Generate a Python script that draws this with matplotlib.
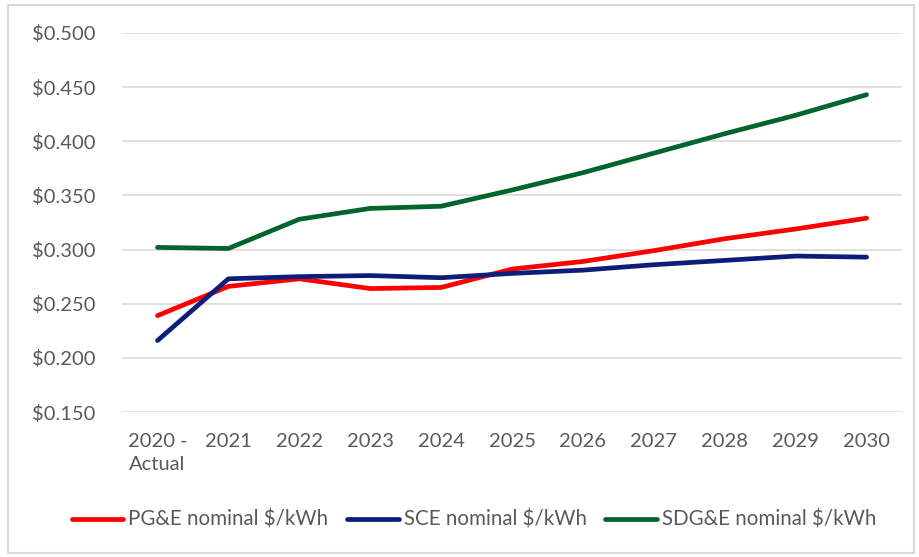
import matplotlib.pyplot as plt
from matplotlib.patches import Rectangle

# Data
years = ["2020 -\nActual", "2021", "2022", "2023", "2024", "2025",
         "2026", "2027", "2028", "2029", "2030"]
pge = [0.239, 0.266, 0.273, 0.264, 0.265, 0.282, 0.289, 0.299, 0.310, 0.319, 0.329]
sce = [0.216, 0.273, 0.275, 0.276, 0.274, 0.278, 0.281, 0.286, 0.290, 0.294, 0.293]
sdge = [0.302, 0.301, 0.328, 0.338, 0.340, 0.355, 0.371, 0.389, 0.407, 0.424, 0.443]
yticks = [0.15, 0.20, 0.25, 0.30, 0.35, 0.40, 0.45, 0.50]

plt.rcParams['font.family'] = ['Lato', 'DejaVu Sans']

fig = plt.figure(figsize=(9.19, 5.57), dpi=100)
ax = fig.add_axes([0.1328, 0.2603, 0.8487, 0.6805])

# light grey frame around the whole chart
fig.patches.append(Rectangle((8 / 919, 4 / 557), 906 / 919, 548 / 557,
                             transform=fig.transFigure, fill=False,
                             edgecolor='#d9d9d9', linewidth=1.5))

x = range(len(years))
ax.plot(x, pge, color='#ff0000', lw=3.4, solid_capstyle='round', label='PG&E nominal $/kWh', zorder=3)
ax.plot(x, sce, color='#0d1e7a', lw=3.4, solid_capstyle='round', label='SCE nominal $/kWh', zorder=3)
ax.plot(x, sdge, color='#00652b', lw=3.4, solid_capstyle='round', label='SDG&E nominal $/kWh', zorder=3)

ax.set_xlim(-0.5, len(years) - 0.5)
ax.set_ylim(0.15, 0.5)
ax.set_yticks(yticks)
ax.set_yticklabels([f"${v:.3f}" for v in yticks])
ax.set_xticks(list(x))
ax.set_xticklabels(years, linespacing=1.45)
ax.grid(axis='y', color='#d9d9d9', lw=1.2)
ax.set_axisbelow(True)
for s in ax.spines.values():
    s.set_visible(False)
ax.tick_params(axis='both', length=0, labelsize=14.5, labelcolor='#595959')
ax.tick_params(axis='y', pad=19)
ax.tick_params(axis='x', pad=15)

fig.legend(loc='center', bbox_to_anchor=(474 / 919, 1 - 520 / 557), ncol=3,
           frameon=False, fontsize=14.8, labelcolor='#595959',
           handlelength=2.5, handletextpad=0.25, columnspacing=0.9)

fig.savefig('out.png', dpi=100)
